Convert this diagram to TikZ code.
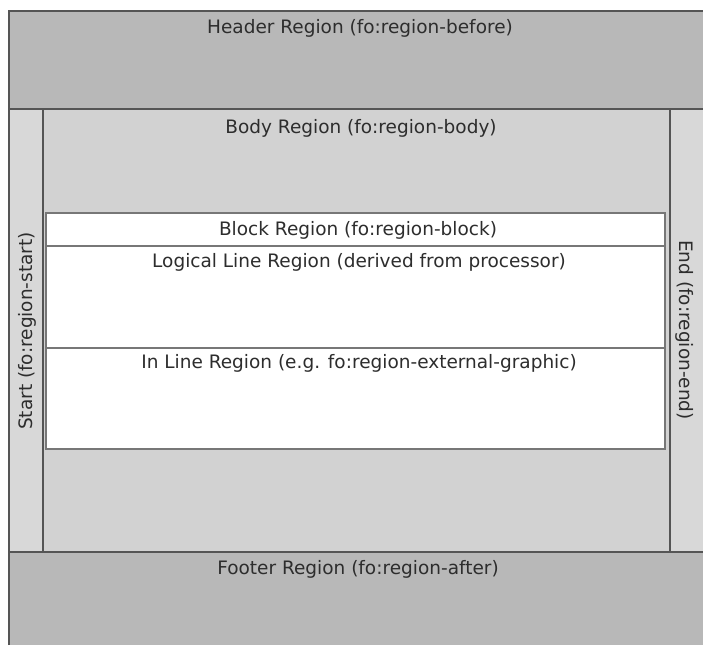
\documentclass[tikz,border=0pt]{standalone}
\usepackage{fontspec}
\setmainfont{DejaVu Sans}
\definecolor{outerfill}{RGB}{184,184,184}
\definecolor{sidefill}{RGB}{216,216,216}
\definecolor{bodyfill}{RGB}{210,210,210}
\definecolor{edge}{RGB}{85,85,85}
\definecolor{inkcol}{RGB}{45,45,45}
\tikzset{
  region/.style={draw=edge, line width=1.2pt},
  whitebox/.style={draw=edge!80, line width=1.2pt, fill=white},
  lbl/.style={font=\fontsize{18.5}{20}\selectfont, text=inkcol, inner sep=0pt, anchor=base}
}
\begin{document}
\begin{tikzpicture}[x=1pt, y=-1pt]
  \useasboundingbox (0,0) rectangle (703,645);
  \fill[white] (0,0) rectangle (703,645);
  % page background and header / footer bands
  \fill[outerfill] (9,11) rectangle (703,645);
  % start and end columns
  \fill[sidefill] (9,109) rectangle (43,552);
  \fill[sidefill] (670,109) rectangle (703,552);
  % body
  \fill[bodyfill] (43,109) rectangle (670,552);
  % white inner regions
  \draw[whitebox] (46,213) rectangle (665,246);
  \draw[whitebox] (46,246) rectangle (665,348);
  \draw[whitebox] (46,348) rectangle (665,449);
  % frame lines
  \draw[region, line width=1.6pt] (9,645) -- (9,11) -- (703,11);
  \draw[region] (9,109) -- (703,109);
  \draw[region] (9,552) -- (703,552);
  \draw[region] (43,109) -- (43,552);
  \draw[region] (670,109) -- (670,552);
  % labels
  \node[lbl] (header) at (360,33) {Header Region (fo:region-before)};
  \node[lbl] (body) at (361,133) {Body Region (fo:region-body)};
  \node[lbl] (block) at (358,235) {Block Region (fo:region-block)};
  \node[lbl] (logical) at (359,267) {Logical Line Region (derived from processor)};
  \node[lbl] (inline) at (359,368) {In Line Region (e.g. fo:region-external-graphic)};
  \node[lbl] (footer) at (358,574) {Footer Region (fo:region-after)};
  \node[lbl, rotate=90] (start) at (32,331) {Start (fo:region-start)};
  \node[lbl, rotate=-90] (end) at (679,330) {End (fo:region-end)};
\end{tikzpicture}
\end{document}
